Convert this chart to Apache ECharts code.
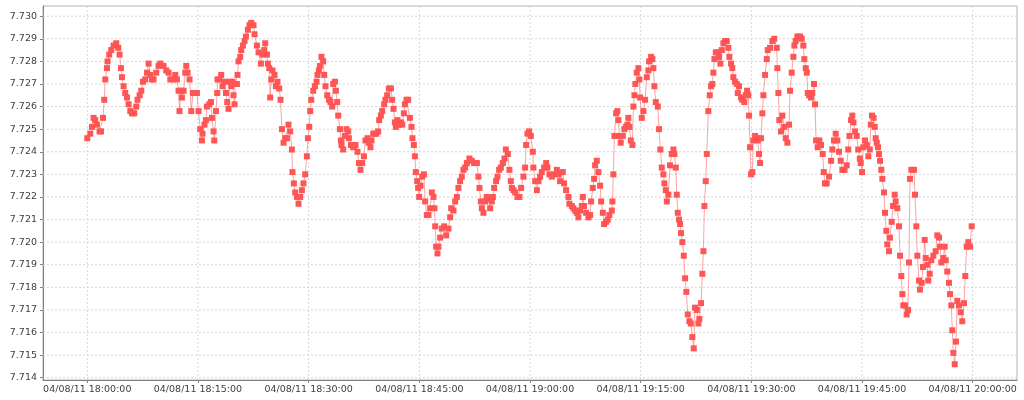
<!DOCTYPE html>
<html>
<head>
<meta charset="utf-8">
<script src="https://cdn.jsdelivr.net/npm/echarts@6/dist/echarts.min.js"></script>
<style>
html,body{margin:0;padding:0;background:#fff;}
#chart{width:1024px;height:400px;}
</style>
</head>
<body>
<div id="chart"></div>
<script>
// Sample times in minutes after 04/08/11 18:00:00
const minutes = [
0,0.41,0.64,0.85,1.08,1.31,1.67,1.86,2.13,2.30,2.44,2.67,2.75,2.98,3.25,3.56,3.93,4.20,4.38,4.57,
4.70,4.92,5.15,5.38,5.60,5.83,6.06,6.37,6.64,6.81,7.09,7.32,7.55,7.86,8.09,8.31,8.54,8.77,8.98,9.35,
9.66,9.89,10.34,10.70,11.01,11.25,11.61,11.92,12.15,12.37,12.50,12.69,12.83,13.05,13.28,13.41,13.59,13.86,14.09,14.32,
14.86,15.08,15.31,15.54,15.62,15.89,16.08,16.22,16.53,16.76,16.89,17.11,17.21,17.44,17.61,17.65,17.92,18.15,18.33,18.60,
18.79,18.97,19.14,19.33,19.51,19.69,19.82,19.96,20.05,20.28,20.36,20.50,20.73,20.86,21.09,21.31,21.50,21.77,21.99,22.22,
22.53,22.67,22.99,23.21,23.53,23.75,23.98,24.12,24.35,24.48,24.66,24.79,24.93,25.10,25.38,25.56,25.78,26.01,26.19,26.38,
26.60,26.83,27.06,27.27,27.50,27.73,27.81,28.00,28.18,28.41,28.63,28.86,29.09,29.30,29.53,29.76,29.90,30.08,30.21,30.35,
30.62,30.85,31.07,31.20,31.39,31.53,31.74,31.97,32.11,32.28,32.52,32.75,32.96,33.19,33.33,33.56,33.69,33.87,34.01,34.24,
34.37,34.45,34.68,34.91,35.13,35.36,35.45,35.73,36.04,36.35,36.62,36.81,37.03,37.26,37.49,37.70,37.98,38.16,38.38,38.52,
38.75,38.98,39.19,39.42,39.56,39.79,39.97,40.24,40.41,40.64,40.87,41.15,41.32,41.50,41.69,41.82,42.04,42.23,42.50,42.68,
42.91,43.04,43.26,43.49,43.72,43.94,44.07,44.26,44.40,44.53,44.71,44.84,44.98,45.16,45.39,45.62,
45.79,46.02,46.24,46.47,46.70,46.92,47.05,47.15,47.28,47.46,47.59,47.82,48.05,48.37,48.64,48.95,49.18,49.32,49.63,49.86,
50.09,50.30,50.53,50.76,50.98,51.21,51.44,51.79,52.12,52.43,52.80,53.01,53.15,53.34,53.47,53.69,53.92,54.15,54.37,54.60,
54.83,54.97,55.14,55.41,55.59,55.82,56.05,56.32,56.54,56.73,57.00,57.21,57.40,57.54,57.76,57.99,58.30,58.57,58.80,59.11,
59.34,59.48,59.65,59.88,60.11,
60.38,60.46,60.70,60.93,61.14,61.37,61.60,61.91,62.19,62.36,62.63,62.96,63.27,63.64,63.85,64.08,64.45,64.62,64.89,65.21,
65.34,65.67,65.88,66.11,66.34,66.56,66.79,67.02,67.16,67.33,67.60,67.92,68.15,68.28,68.51,68.69,68.82,69.05,69.27,69.50,
69.64,69.87,70.04,70.31,70.54,70.76,71.09,71.17,71.30,71.44,71.67,71.84,71.98,72.12,72.30,72.58,72.79,73.02,73.20,73.33,
73.47,73.66,73.88,74.01,74.15,74.28,74.47,74.69,74.82,74.92,75.15,75.37,75.60,
75.83,76.04,76.14,76.41,76.59,76.72,76.86,77.05,77.32,77.49,77.67,77.86,78.08,78.21,78.40,78.54,78.75,78.98,79.21,79.43,
79.57,79.76,79.89,80.03,80.20,80.34,80.47,80.65,80.84,81.02,81.19,81.38,81.60,81.79,82.00,82.19,82.37,82.60,82.82,82.95,
83.18,83.36,83.50,83.63,83.82,83.96,84.17,84.36,84.54,84.71,84.85,84.99,85.18,85.45,85.62,85.80,85.99,86.21,86.44,86.67,
86.88,87.02,87.25,87.42,87.56,87.79,88.02,88.16,88.33,88.60,88.78,89.05,89.24,89.42,89.59,89.69,89.82,89.96,90.13,90.27,
90.50,90.73,90.87,91.04,91.18,91.31,91.49,91.63,91.86,92.09,92.22,92.53,92.85,93.11,93.44,93.52,93.66,93.79,94.02,94.20,
94.47,94.66,94.88,95.11,95.24,95.47,95.69,95.83,96.01,96.23,96.60,96.83,97.04,97.18,97.37,97.51,97.64,97.82,98.09,98.26,
98.49,98.63,98.77,98.99,99.21,99.44,99.67,99.81,99.98,100.21,100.53,100.80,100.97,101.20,101.43,101.65,101.88,102.11,102.33,102.63,
102.92,103.13,103.30,103.51,103.68,103.84,104.05,104.28,104.48,104.70,104.82,105.00,105.17,105.40,105.63,105.85,106.05,106.19,106.35,106.56,
106.72,106.85,106.99,107.16,107.30,107.44,107.61,107.75,107.98,108.11,108.29,108.42,108.65,108.79,109.02,109.20,109.43,109.56,109.78,110.01,
110.15,110.32,110.46,110.59,110.82,111.05,111.23,111.36,111.50,111.68,112.04,112.18,112.35,112.49,112.72,112.85,113.08,113.26,113.49,113.63,
113.84,113.98,114.17,114.39,114.66,114.98,115.20,115.43,115.57,115.74,116.01,116.20,116.34,116.55,116.78,116.92,117.10,117.23,117.37,117.56,
117.73,117.91,118.14,118.37,118.58,118.82,118.99,119.18,119.40,119.63,119.86
];
const values = [
7.7246,7.7248,7.7251,7.7255,7.7254,7.7252,7.7249,7.7249,7.7255,7.7263,7.7272,7.7277,7.7280,7.7283,7.7285,7.7287,7.7288,7.7286,7.7283,7.7277,
7.7273,7.7269,7.7266,7.7264,7.7261,7.7258,7.7257,7.7257,7.7260,7.7263,7.7265,7.7267,7.7271,7.7272,7.7275,7.7279,7.7274,7.7272,7.7272,7.7275,
7.7278,7.7279,7.7278,7.7276,7.7275,7.7272,7.7272,7.7274,7.7272,7.7267,7.7258,7.7267,7.7264,7.7267,7.7275,7.7278,7.7275,7.7272,7.7258,7.7266,
7.7266,7.7258,7.7250,7.7245,7.7248,7.7252,7.7254,7.7260,7.7261,7.7262,7.7255,7.7249,7.7245,7.7258,7.7266,7.7272,7.7272,7.7274,7.7269,7.7271,
7.7266,7.7262,7.7259,7.7271,7.7269,7.7271,7.7265,7.7261,7.7270,7.7270,7.7274,7.7280,7.7282,7.7285,7.7287,7.7289,7.7291,7.7294,7.7296,7.7297,
7.7296,7.7292,7.7287,7.7284,7.7279,7.7283,7.7285,7.7288,7.7283,7.7279,7.7277,7.7264,7.7272,7.7276,7.7274,7.7269,7.7271,7.7268,7.7263,7.7250,
7.7244,7.7246,7.7246,7.7252,7.7249,7.7241,7.7231,7.7226,7.7222,7.7220,7.7217,7.7220,7.7223,7.7226,7.7230,7.7238,7.7246,7.7251,7.7258,7.7263,
7.7267,7.7269,7.7271,7.7274,7.7276,7.7278,7.7282,7.7280,7.7274,7.7269,7.7265,7.7263,7.7262,7.7260,7.7270,7.7271,7.7267,7.7262,7.7256,7.7250,
7.7245,7.7243,7.7241,7.7247,7.7250,7.7249,7.7246,7.7243,7.7242,7.7243,7.7240,7.7235,7.7232,7.7235,7.7238,7.7245,7.7246,7.7244,7.7242,7.7245,
7.7248,7.7248,7.7248,7.7249,7.7254,7.7256,7.7258,7.7261,7.7263,7.7265,7.7268,7.7268,7.7263,7.7259,7.7253,7.7251,7.7254,7.7252,7.7253,7.7252,
7.7257,7.7261,7.7263,7.7263,7.7255,7.7251,7.7246,7.7243,7.7238,7.7231,7.7227,7.7224,7.7220,7.7225,7.7229,7.7230,
7.7218,7.7212,7.7212,7.7215,7.7222,7.7220,7.7215,7.7207,7.7198,7.7195,7.7198,7.7202,7.7206,7.7207,7.7203,7.7206,7.7211,7.7215,7.7214,7.7218,
7.7220,7.7224,7.7227,7.7229,7.7232,7.7233,7.7235,7.7237,7.7236,7.7235,7.7235,7.7229,7.7224,7.7218,7.7215,7.7213,7.7218,7.7220,7.7219,7.7215,
7.7218,7.7220,7.7224,7.7227,7.7229,7.7232,7.7233,7.7235,7.7237,7.7241,7.7239,7.7232,7.7227,7.7224,7.7223,7.7222,7.7220,7.7220,7.7224,7.7229,
7.7233,7.7243,7.7248,7.7249,7.7247,
7.7240,7.7233,7.7227,7.7223,7.7227,7.7229,7.7231,7.7233,7.7235,7.7233,7.7230,7.7229,7.7230,7.7232,7.7230,7.7227,7.7231,7.7226,7.7223,7.7220,
7.7217,7.7216,7.7215,7.7214,7.7213,7.7211,7.7214,7.7216,7.7220,7.7216,7.7213,7.7211,7.7212,7.7218,7.7224,7.7228,7.7234,7.7236,7.7231,7.7225,
7.7218,7.7213,7.7208,7.7209,7.7210,7.7212,7.7214,7.7218,7.7230,7.7247,7.7257,7.7258,7.7254,7.7247,7.7244,7.7247,7.7250,7.7251,7.7252,7.7255,
7.7251,7.7245,7.7243,7.7260,7.7265,7.7270,7.7275,7.7277,7.7272,7.7264,7.7255,7.7258,7.7263,
7.7273,7.7276,7.7280,7.7282,7.7281,7.7277,7.7269,7.7262,7.7260,7.7250,7.7241,7.7233,7.7230,7.7226,7.7223,7.7218,7.7221,7.7234,7.7239,7.7241,
7.7239,7.7233,7.7221,7.7213,7.7210,7.7208,7.7204,7.7200,7.7194,7.7184,7.7178,7.7168,7.7165,7.7164,7.7158,7.7153,7.7171,7.7170,7.7164,7.7166,
7.7173,7.7186,7.7196,7.7216,7.7227,7.7239,7.7258,7.7265,7.7269,7.7270,7.7275,7.7281,7.7284,7.7284,7.7282,7.7279,7.7285,7.7288,7.7289,7.7289,
7.7286,7.7282,7.7279,7.7277,7.7273,7.7271,7.7270,7.7266,7.7269,7.7264,7.7263,7.7262,7.7265,7.7267,7.7265,7.7256,7.7242,7.7230,7.7231,7.7245,
7.7247,7.7246,7.7245,7.7239,7.7235,7.7246,7.7257,7.7265,7.7274,7.7281,7.7285,7.7286,7.7289,7.7290,7.7286,7.7277,7.7266,7.7254,7.7249,7.7256,
7.7251,7.7246,7.7244,7.7252,7.7267,7.7275,7.7282,7.7287,7.7289,7.7291,7.7291,7.7290,7.7287,7.7281,7.7277,7.7275,7.7266,7.7265,7.7264,7.7266,
7.7270,7.7261,7.7245,7.7242,7.7245,7.7243,7.7239,7.7231,7.7226,7.7226,7.7229,7.7236,7.7241,7.7245,7.7248,7.7245,7.7240,7.7236,7.7232,7.7232,
7.7234,7.7241,7.7247,7.7254,7.7256,7.7253,7.7249,7.7247,7.7241,7.7237,7.7235,7.7231,7.7242,7.7245,7.7243,7.7238,7.7241,7.7252,7.7256,7.7255,
7.7251,7.7246,7.7244,7.7242,7.7239,7.7236,7.7232,7.7228,7.7222,7.7213,7.7205,7.7199,7.7196,7.7202,7.7209,7.7216,7.7221,7.7218,7.7215,7.7207,
7.7194,7.7185,7.7177,7.7172,7.7172,7.7168,7.7170,7.7191,7.7228,7.7232,7.7232,7.7221,7.7207,7.7194,7.7183,7.7179,7.7182,7.7189,7.7201,7.7193,
7.7190,7.7183,7.7186,7.7192,7.7194,7.7196,7.7203,7.7202,7.7198,7.7191,7.7193,7.7198,7.7192,7.7187,7.7182,7.7177,7.7172,7.7161,7.7151,7.7146,
7.7156,7.7174,7.7172,7.7169,7.7165,7.7173,7.7185,7.7198,7.7200,7.7198,7.7207
];
// Axis ranges, tick positions (minutes after 18:00) and y tick values
const xMin = -6, xMax = 126;
const yMin = 7.7139, yMax = 7.73045;
const xTicks = [0, 15, 30, 45, 60, 75, 90, 105, 120];
const yTicks = [7.714,7.715,7.716,7.717,7.718,7.719,7.720,7.721,7.722,7.723,7.724,7.725,7.726,7.727,7.728,7.729,7.730];
const datePrefix = '04/08/11';
const startHour = 18;

const data = minutes.map((m, i) => [m, values[i]]);
function pad(n){ return (n < 10 ? '0' : '') + n; }
function timeLabel(m){
  const total = Math.round(m * 60);
  const h = startHour + Math.floor(total / 3600);
  const mm = Math.floor((total % 3600) / 60);
  const ss = total % 60;
  return datePrefix + ' ' + pad(h) + ':' + pad(mm) + ':' + pad(ss);
}

// Dashed grid lines drawn as thin line series through the axes' scales
const gridStyle = {color: '#d6d6d6', type: [2, 2], width: 1};
function gridSeries(points){
  return {
    type: 'line', data: points, z: 1, silent: true,
    showSymbol: false, symbol: 'none',
    lineStyle: gridStyle, emphasis: {disabled: true}, tooltip: {show: false}
  };
}
const gridSeriesList = xTicks.map(t => gridSeries([[t, yMin], [t, yMax]]))
  .concat(yTicks.map(t => gridSeries([[xMin, t], [xMax, t]])));

const chart = echarts.init(document.getElementById('chart'), null, {renderer: 'canvas'});
const font = 'DejaVu Sans';
chart.setOption({
  animation: false,
  backgroundColor: '#ffffff',
  grid: {
    left: 43, right: 7, top: 6, bottom: 20,
    show: true, borderColor: '#b4b4b4', borderWidth: 1, backgroundColor: 'transparent'
  },
  xAxis: {
    type: 'value',
    min: xMin, max: xMax,
    axisLine: {show: true, onZero: false, lineStyle: {color: '#808080', width: 1}},
    axisTick: {show: true, length: 3, customValues: xTicks, lineStyle: {color: '#808080'}},
    axisLabel: {
      customValues: xTicks, formatter: timeLabel,
      fontFamily: font, fontSize: 9.5, color: '#404040', margin: 5
    },
    splitLine: {show: false}
  },
  yAxis: {
    type: 'value',
    min: yMin, max: yMax,
    axisLine: {show: true, onZero: false, lineStyle: {color: '#808080', width: 1}},
    axisTick: {show: true, length: 3, customValues: yTicks, lineStyle: {color: '#808080'}},
    axisLabel: {
      customValues: yTicks, formatter: v => v.toFixed(3),
      fontFamily: font, fontSize: 9.5, color: '#404040', margin: 6
    },
    splitLine: {show: false}
  },
  series: gridSeriesList.concat([{
    type: 'line',
    z: 3,
    data: data,
    showSymbol: true,
    showAllSymbol: true,
    symbol: 'rect',
    symbolSize: 6,
    sampling: null,
    itemStyle: {color: '#ff5555', borderWidth: 0},
    lineStyle: {color: 'rgba(255,85,85,0.55)', width: 1},
    emphasis: {disabled: true}
  }])
});
</script>
</body>
</html>
